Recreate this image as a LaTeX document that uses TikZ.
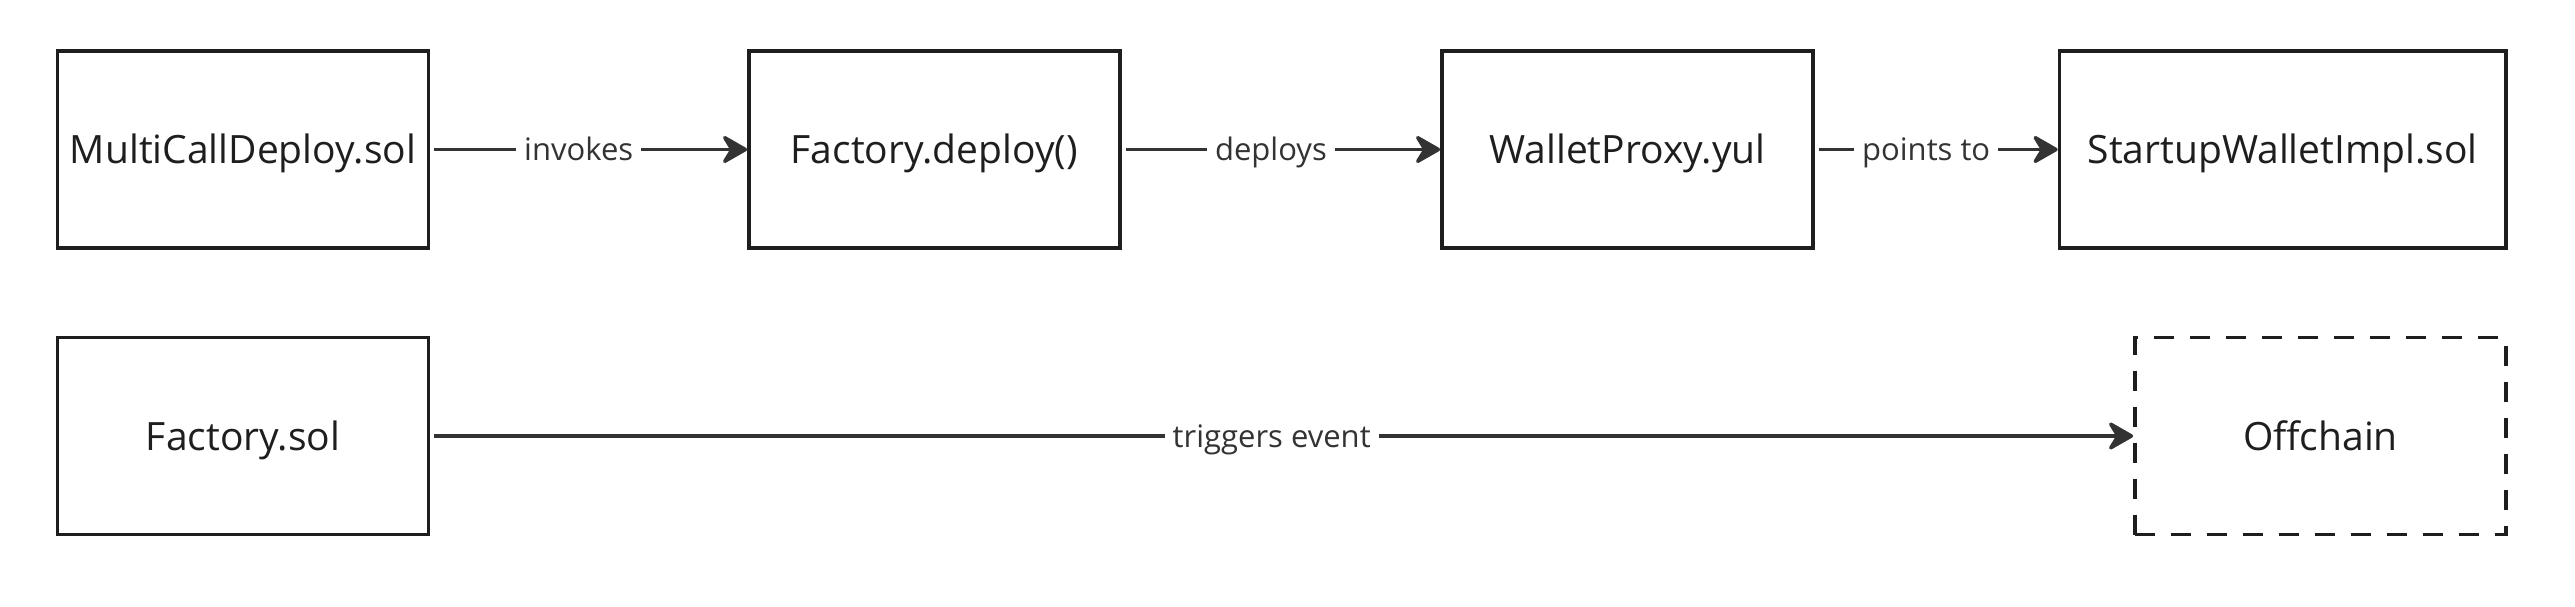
\documentclass[tikz,border=0pt]{standalone}
\usepackage{fontspec}
\setmainfont{Open Sans}
\usetikzlibrary{arrows.meta}
\definecolor{boxc}{HTML}{1E1E1E}
\definecolor{linec}{HTML}{333333}
\begin{document}
\begin{tikzpicture}[x=1pt,y=1pt,
  box/.style={draw=boxc, line width=3.5pt, minimum width=371pt, minimum height=197pt,
    inner sep=0pt, font=\fontsize{39}{47}\selectfont, text=boxc, text height=28pt, text depth=0pt},
  conn/.style={draw=linec, line width=3.5pt, -{Stealth[length=29pt,width=33pt,inset=10pt,round]},
    shorten <=4pt},
  lbl/.style={fill=white, text=linec, font=\fontsize{31}{37}\selectfont, inner xsep=8pt,
    inner ysep=1pt, xshift=-10pt, text height=28pt, text depth=6pt}]
\useasboundingbox (0,0) rectangle (2575,-606);
\node[box] (mc) at (243,-149.5) {MultiCallDeploy.sol};
\node[box] (fd) at (934.4,-149.5) {Factory.deploy()};
\node[box] (wp) at (1627.4,-149.5) {WalletProxy.yul};
\node[box, minimum width=446.5pt] (sw) at (2282.7,-149.5) {StartupWalletImpl.sol};
\node[box] (fs) at (243,-436) {Factory.sol};
\node[box, dash pattern=on 20pt off 16pt] (oc) at (2320.4,-436) {Offchain};
\draw[conn] (mc) -- node[lbl]{invokes} (fd);
\draw[conn] (fd) -- node[lbl]{deploys} (wp);
\draw[conn] (wp) -- node[lbl]{points to} (sw);
\draw[conn] (fs) -- node[lbl]{triggers event} (oc);
\end{tikzpicture}
\end{document}
